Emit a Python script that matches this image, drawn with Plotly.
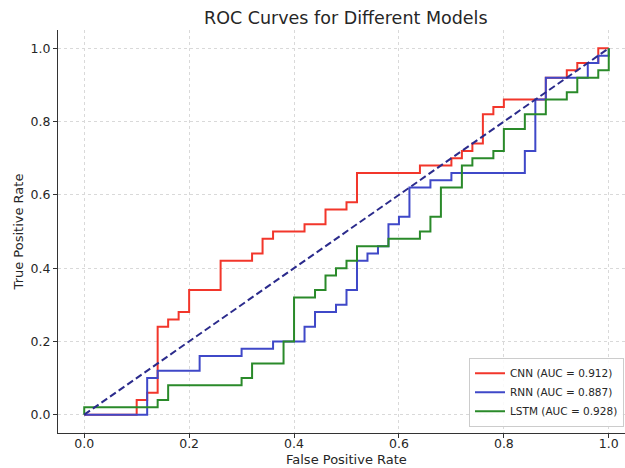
import plotly.graph_objects as go

# ---- data ----
models = ["CNN", "RNN", "LSTM"]
auc_values = [0.912, 0.887, 0.928]

cnn_fpr = [0.0, 0.10, 0.10, 0.12, 0.12, 0.14, 0.14, 0.16, 0.16, 0.18, 0.18, 0.20, 0.20, 0.26, 0.26,
           0.32, 0.32, 0.34, 0.34, 0.36, 0.36, 0.42, 0.42, 0.46, 0.46, 0.50, 0.50, 0.52, 0.52,
           0.64, 0.64, 0.70, 0.70, 0.72, 0.72, 0.74, 0.74, 0.76, 0.76, 0.78, 0.78, 0.80, 0.80,
           0.88, 0.88, 0.92, 0.92, 0.94, 0.94, 0.96, 0.98, 0.98, 1.0]
cnn_tpr = [0.0, 0.0, 0.04, 0.04, 0.06, 0.06, 0.24, 0.24, 0.26, 0.26, 0.28, 0.28, 0.34, 0.34, 0.42,
           0.42, 0.44, 0.44, 0.48, 0.48, 0.50, 0.50, 0.52, 0.52, 0.56, 0.56, 0.58, 0.58, 0.66,
           0.66, 0.68, 0.68, 0.70, 0.70, 0.72, 0.72, 0.74, 0.74, 0.82, 0.82, 0.84, 0.84, 0.86,
           0.86, 0.92, 0.92, 0.94, 0.94, 0.96, 0.96, 0.96, 1.0, 1.0]

rnn_fpr = [0.0, 0.12, 0.12, 0.14, 0.14, 0.22, 0.22, 0.30, 0.30, 0.36, 0.36, 0.42, 0.42, 0.44, 0.44,
           0.48, 0.48, 0.50, 0.50, 0.52, 0.52, 0.54, 0.54, 0.56, 0.56, 0.58, 0.58, 0.60, 0.60,
           0.62, 0.62, 0.66, 0.66, 0.70, 0.70, 0.84, 0.84, 0.86, 0.86, 0.88, 0.88, 0.96, 0.96,
           0.98, 0.98, 1.0, 1.0]
rnn_tpr = [0.0, 0.0, 0.10, 0.10, 0.12, 0.12, 0.16, 0.16, 0.18, 0.18, 0.20, 0.20, 0.24, 0.24, 0.28,
           0.28, 0.30, 0.30, 0.34, 0.34, 0.42, 0.42, 0.44, 0.44, 0.46, 0.46, 0.52, 0.52, 0.54,
           0.54, 0.62, 0.62, 0.64, 0.64, 0.66, 0.66, 0.72, 0.72, 0.86, 0.86, 0.92, 0.92, 0.96,
           0.96, 0.98, 0.98, 1.0]

lstm_fpr = [0.0, 0.0, 0.14, 0.14, 0.16, 0.16, 0.30, 0.30, 0.32, 0.32, 0.38, 0.38, 0.40, 0.40, 0.44,
            0.44, 0.46, 0.46, 0.48, 0.48, 0.50, 0.50, 0.52, 0.52, 0.58, 0.58, 0.64, 0.64, 0.66,
            0.66, 0.68, 0.68, 0.72, 0.72, 0.74, 0.74, 0.78, 0.78, 0.80, 0.80, 0.84, 0.84, 0.88,
            0.88, 0.92, 0.92, 0.94, 0.94, 0.98, 0.98, 1.0, 1.0]
lstm_tpr = [0.0, 0.02, 0.02, 0.04, 0.04, 0.08, 0.08, 0.10, 0.10, 0.14, 0.14, 0.20, 0.20, 0.32, 0.32,
            0.34, 0.34, 0.38, 0.38, 0.40, 0.40, 0.42, 0.42, 0.46, 0.46, 0.48, 0.48, 0.50, 0.50,
            0.54, 0.54, 0.62, 0.62, 0.68, 0.68, 0.70, 0.70, 0.72, 0.72, 0.78, 0.78, 0.82, 0.82,
            0.86, 0.86, 0.88, 0.88, 0.92, 0.92, 0.94, 0.94, 1.0]

chance_x = [0.0, 1.0]
chance_y = [0.0, 1.0]

tick_vals = [0.0, 0.2, 0.4, 0.6, 0.8, 1.0]
tick_text = ["0.0", "0.2", "0.4", "0.6", "0.8", "1.0"]

# ---- figure ----
FONT = "DejaVu Sans"
TXT = "#262626"
colors = ["#f2362b", "#3f48c8", "#2a8a2a"]
curves = [(cnn_fpr, cnn_tpr), (rnn_fpr, rnn_tpr), (lstm_fpr, lstm_tpr)]

fig = go.Figure()
for name, auc, (fx, ty), col in zip(models, auc_values, curves, colors):
    fig.add_trace(go.Scatter(
        x=fx, y=ty, mode="lines",
        name=f"{name} (AUC = {auc:.3f})",
        line=dict(color=col, width=2),
    ))

fig.add_trace(go.Scatter(
    x=chance_x, y=chance_y, mode="lines", showlegend=False,
    line=dict(color="#2b2b8c", width=2, dash="7px,3.5px"),
    hoverinfo="skip",
))

W, H = 625, 468
L, R, T, B = 57.5, 0, 30, 34.7
plot_w = W - L - R
plot_h = H - T - B

def px_to_paper_x(px):
    return (px - L) / plot_w

def py_to_paper_y(py):
    return (H - B - py) / plot_h

axis_common = dict(
    tickmode="array", tickvals=tick_vals, ticktext=tick_text,
    showgrid=True, gridcolor="#d9d9d9", griddash="dot", gridwidth=1,
    zeroline=False, showline=True, linecolor="#333333", linewidth=1.2,
    mirror=False, ticks="outside", ticklen=4, tickwidth=1, tickcolor="#333333",
    tickfont=dict(family=FONT, size=12.5, color=TXT),
)

fig.update_layout(
    width=W, height=H,
    margin=dict(l=L, r=R, t=T, b=B, autoexpand=False),
    paper_bgcolor="white", plot_bgcolor="white",
    font=dict(family=FONT, color=TXT),
    xaxis=dict(range=[-0.05, -0.05 + plot_w / 525.0], ticklabelstandoff=-5, **axis_common),
    yaxis=dict(range=[-0.05, 1.05], **axis_common),
    showlegend=True,
    legend=dict(
        x=px_to_paper_x(624), y=py_to_paper_y(427),
        xanchor="right", yanchor="bottom",
        bgcolor="rgba(255,255,255,0.85)", bordercolor="#cccccc", borderwidth=1,
        font=dict(family=FONT, size=10.5, color=TXT),
        tracegroupgap=0,
    ),
    annotations=[
        dict(text="ROC Curves for Different Models", xref="paper", yref="paper",
             x=px_to_paper_x(346), y=py_to_paper_y(18), xanchor="center", yanchor="middle",
             showarrow=False, font=dict(family=FONT, size=17.5, color=TXT)),
        dict(text="False Positive Rate", xref="paper", yref="paper",
             x=px_to_paper_x(346), y=py_to_paper_y(460), xanchor="center", yanchor="middle",
             showarrow=False, font=dict(family=FONT, size=13, color=TXT)),
        dict(text="True Positive Rate", xref="paper", yref="paper",
             x=px_to_paper_x(18), y=py_to_paper_y(232), xanchor="center", yanchor="middle",
             textangle=-90, showarrow=False, font=dict(family=FONT, size=13, color=TXT)),
    ],
)

fig.write_html(
    "out.html",
    config={"displayModeBar": False},
    post_script="document.body.style.margin='0';document.body.style.padding='0';",
)
